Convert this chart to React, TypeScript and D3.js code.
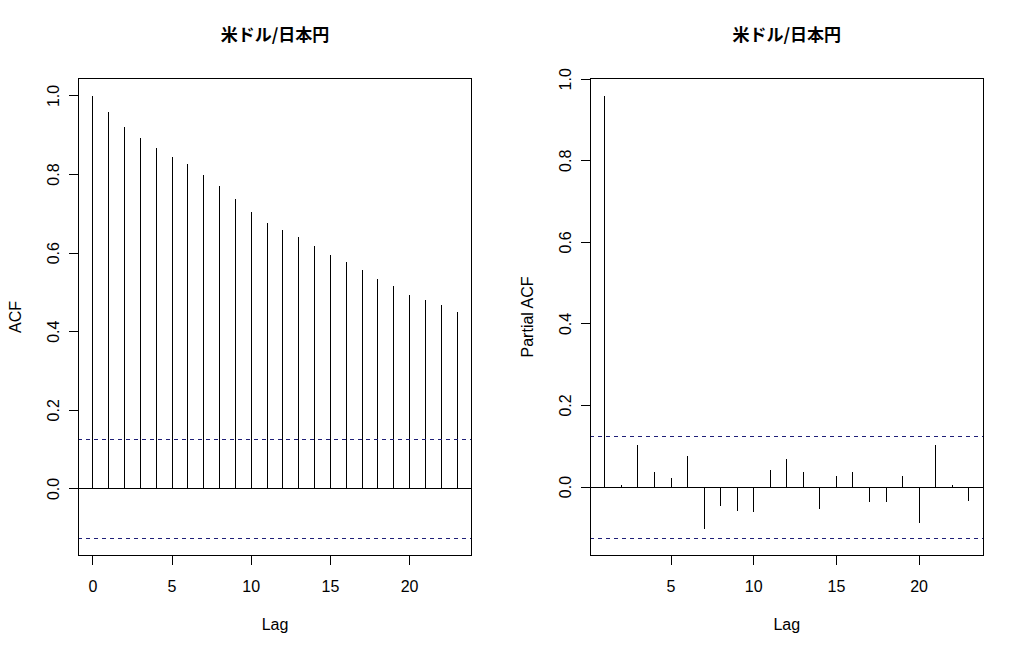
import React from "react";
import * as d3 from "d3";

// ACF / PACF of USD/JPY series
const acfLags = [0, 1, 2, 3, 4, 5, 6, 7, 8, 9, 10, 11, 12, 13, 14, 15, 16, 17, 18, 19, 20, 21, 22, 23];
const acfValues = [
  1.0, 0.959, 0.921, 0.893, 0.867, 0.845, 0.827, 0.799, 0.771, 0.737, 0.704, 0.676,
  0.658, 0.641, 0.618, 0.595, 0.577, 0.556, 0.534, 0.516, 0.493, 0.48, 0.467, 0.449,
];

const pacfLags = [1, 2, 3, 4, 5, 6, 7, 8, 9, 10, 11, 12, 13, 14, 15, 16, 17, 18, 19, 20, 21, 22, 23];
const pacfValues = [
  0.959, 0.006, 0.104, 0.038, 0.023, 0.077, -0.104, -0.046, -0.058, -0.06, 0.042, 0.069,
  0.038, -0.055, 0.028, 0.038, -0.036, -0.036, 0.028, -0.089, 0.104, 0.006, -0.034,
];

const ciBound = 0.125;
const yTicks = [0, 0.2, 0.4, 0.6, 0.8, 1.0];
const acfXTicks = [0, 5, 10, 15, 20];
const pacfXTicks = [5, 10, 15, 20];
const chartTitle = "米ドル/日本円";

const FONT = "'Liberation Sans', Arial, sans-serif";
const CI_COLOR = "#1f1f78";

interface PanelProps {
  left: number;
  right: number;
  lags: number[];
  values: number[];
  xTicks: number[];
  yLabel: string;
}

const top = 78.3;
const bottom = 555.7;

// R-style 4% axis expansion
const expand = (lo: number, hi: number): [number, number] => {
  const pad = (hi - lo) * 0.04;
  return [lo - pad, hi + pad];
};

const Panel: React.FC<PanelProps> = ({ left, right, lags, values, xTicks, yLabel }) => {
  const x = d3
    .scaleLinear()
    .domain(expand(d3.min(lags) ?? 0, d3.max(lags) ?? 1))
    .range([left, right]);
  const yMax = Math.max(d3.max(values) ?? 1, ciBound);
  const yMin = Math.min(d3.min(values) ?? 0, -ciBound);
  const y = d3.scaleLinear().domain(expand(yMin, yMax)).range([bottom, top]);

  const midX = (left + right) / 2;
  const midY = (top + bottom) / 2;

  return (
    <g fontFamily={FONT} fontSize={16} fill="#000">
      <text
        x={midX}
        y={41}
        textAnchor="middle"
        fontFamily="'Noto Sans CJK JP', sans-serif"
        fontWeight="bold"
        fontSize={17}
      >
        {chartTitle}
      </text>

      {/* stems */}
      {lags.map((lag, i) => (
        <line
          key={lag}
          x1={x(lag)}
          x2={x(lag)}
          y1={y(0)}
          y2={y(values[i])}
          stroke="#000"
          strokeWidth={1}
          shapeRendering="crispEdges"
        />
      ))}

      {/* zero line */}
      <line x1={left} x2={right} y1={y(0)} y2={y(0)} stroke="#000" shapeRendering="crispEdges" />

      {/* confidence bounds */}
      {[ciBound, -ciBound].map((c) => (
        <line
          key={c}
          x1={left}
          x2={right}
          y1={y(c)}
          y2={y(c)}
          stroke={CI_COLOR}
          strokeDasharray="4,4"
          shapeRendering="crispEdges"
        />
      ))}

      {/* box */}
      <rect
        x={left}
        y={top}
        width={right - left}
        height={bottom - top}
        fill="none"
        stroke="#000"
        shapeRendering="crispEdges"
      />

      {/* x axis */}
      {xTicks.map((t) => (
        <g key={t}>
          <line x1={x(t)} x2={x(t)} y1={bottom} y2={bottom + 9} stroke="#000" shapeRendering="crispEdges" />
          <text x={x(t)} y={592} textAnchor="middle">
            {t}
          </text>
        </g>
      ))}
      <text x={midX} y={630} textAnchor="middle">
        Lag
      </text>

      {/* y axis */}
      {yTicks.map((t) => (
        <g key={t}>
          <line x1={left - 9} x2={left} y1={y(t)} y2={y(t)} stroke="#000" shapeRendering="crispEdges" />
          <text
            transform={`translate(${left - 19.5},${y(t)}) rotate(-90)`}
            textAnchor="middle"
          >
            {d3.format(".1f")(t)}
          </text>
        </g>
      ))}
      <text transform={`translate(${left - 57.5},${midY}) rotate(-90)`} textAnchor="middle">
        {yLabel}
      </text>
    </g>
  );
};

export default function App() {
  return (
    <div style={{ position: "absolute", left: 0, top: 0, background: "#fff" }}>
      <svg width={1024} height={653} style={{ display: "block" }}>
        <rect width={1024} height={653} fill="#fff" />
        <Panel
          left={78.3}
          right={471.7}
          lags={acfLags}
          values={acfValues}
          xTicks={acfXTicks}
          yLabel="ACF"
        />
        <Panel
          left={590.3}
          right={983.3}
          lags={pacfLags}
          values={pacfValues}
          xTicks={pacfXTicks}
          yLabel="Partial ACF"
        />
      </svg>
    </div>
  );
}
